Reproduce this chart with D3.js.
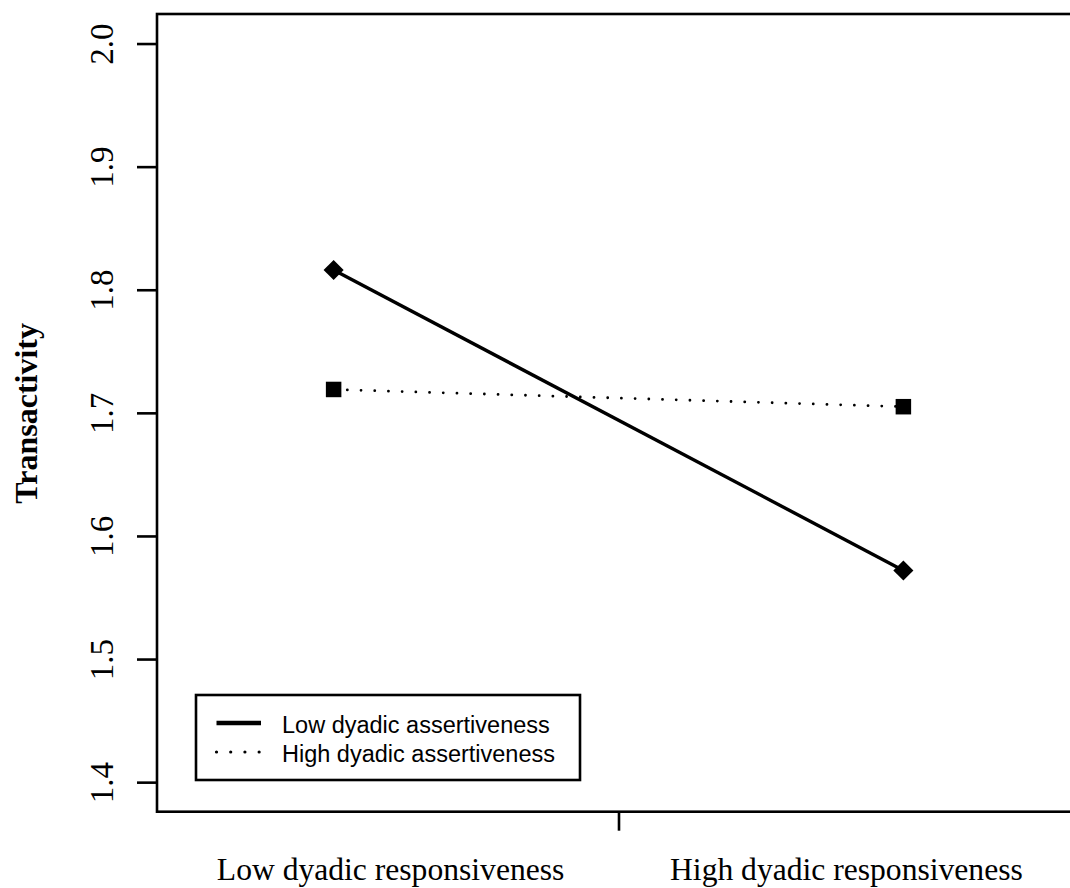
<!DOCTYPE html>
<html>
<head>
<meta charset="utf-8">
<script src="https://cdn.jsdelivr.net/npm/d3@7"></script>
<style>
  html, body { margin: 0; padding: 0; background: #fff; }
  svg { display: block; }
</style>
</head>
<body>
<script>
// ---- data ----
const categories = ["Low dyadic responsiveness", "High dyadic responsiveness"];
const categoryX = [1, 2];
const categoryLabelX = [1.1, 1.9];
const seriesNames = ["Low dyadic assertiveness", "High dyadic assertiveness"];
const lowAssertiveness = [1.816, 1.572];
const highAssertiveness = [1.719, 1.705];
const yTicks = [1.4, 1.5, 1.6, 1.7, 1.8, 1.9, 2.0];
const yTitle = "Transactivity";

const W = 1070, H = 888;
const svg = d3.select("body").append("svg").attr("width", W).attr("height", H);

// scales (R-style 4% padding)
const x = d3.scaleLinear().domain([0.69, 2.31]).range([157, 1080]);
const y = d3.scaleLinear().domain([1.376, 2.024]).range([811.7, 14]);

// box
svg.append("rect")
  .attr("x", x(0.69)).attr("y", y(2.024))
  .attr("width", x(2.31) - x(0.69)).attr("height", y(1.376) - y(2.024))
  .attr("fill", "none").attr("stroke", "#000").attr("stroke-width", 2.6);

// y axis
const yAxis = svg.append("g").attr("transform", `translate(${x(0.69)},0)`)
  .call(d3.axisLeft(y).tickValues(yTicks).tickSize(20).tickFormat(d3.format(".1f")));
yAxis.select(".domain").remove();
yAxis.selectAll(".tick line").attr("stroke", "#000").attr("stroke-width", 2.6);
yAxis.selectAll(".tick text")
  .attr("x", null).attr("dy", null)
  .attr("transform", "translate(-44,0) rotate(-90)")
  .attr("text-anchor", "middle")
  .attr("font-family", "'Liberation Serif', 'Times New Roman', serif")
  .attr("font-size", 33)
  .attr("fill", "#000");

// x axis: single tick between categories
const xAxis = svg.append("g").attr("transform", `translate(0,${y(1.376)})`)
  .call(d3.axisBottom(x).tickValues([1.5]).tickSize(19).tickFormat(""));
xAxis.select(".domain").remove();
xAxis.selectAll(".tick line").attr("stroke", "#000").attr("stroke-width", 2.6);

// category labels
svg.selectAll(".catlab").data(categories).enter().append("text")
  .attr("class", "catlab")
  .attr("x", (d, i) => x(categoryLabelX[i]))
  .attr("y", 880)
  .attr("text-anchor", "middle")
  .attr("font-family", "'Liberation Serif', 'Times New Roman', serif")
  .attr("font-size", 31.6)
  .attr("fill", "#000")
  .text(d => d);

// y title
svg.append("text")
  .attr("transform", `translate(37,${(y(1.4) + y(2.0)) / 2 + 0.5}) rotate(-90)`)
  .attr("text-anchor", "middle")
  .attr("font-family", "'Liberation Serif', 'Times New Roman', serif")
  .attr("font-weight", "bold")
  .attr("font-size", 32)
  .attr("fill", "#000")
  .text(yTitle);

// lines
const line = d3.line().x((d, i) => x(categoryX[i])).y(d => y(d));
svg.append("path").datum(lowAssertiveness).attr("d", line)
  .attr("fill", "none").attr("stroke", "#000").attr("stroke-width", 3.4);
svg.append("path").datum(highAssertiveness).attr("d", line)
  .attr("fill", "none").attr("stroke", "#000").attr("stroke-width", 2.8)
  .attr("stroke-dasharray", "0.01 13.7").attr("stroke-linecap", "round")
  .attr("stroke-dashoffset", -13.7);

// markers
const diamond = d3.symbol().type(d3.symbolSquare).size(14.2 * 14.2);
svg.selectAll(".dia").data(lowAssertiveness).enter().append("path")
  .attr("d", diamond)
  .attr("transform", (d, i) => `translate(${x(categoryX[i])},${y(d)}) rotate(45)`)
  .attr("fill", "#000");
const square = d3.symbol().type(d3.symbolSquare).size(15.5 * 15.5);
svg.selectAll(".sq").data(highAssertiveness).enter().append("path")
  .attr("d", square)
  .attr("transform", (d, i) => `translate(${x(categoryX[i])},${y(d)})`)
  .attr("fill", "#000");

// legend
const lg = svg.append("g");
lg.append("rect").attr("x", 196).attr("y", 695).attr("width", 384).attr("height", 85)
  .attr("fill", "#fff").attr("stroke", "#000").attr("stroke-width", 2.6);
const legendRows = [
  { name: seriesNames[0], dash: null, w: 4.6, yy: 723 },
  { name: seriesNames[1], dash: "0.01 14.2", w: 3.2, yy: 752 }
];
legendRows.forEach(r => {
  const l = lg.append("line").attr("x1", 216.5).attr("x2", 261).attr("y1", r.yy).attr("y2", r.yy)
    .attr("stroke", "#000").attr("stroke-width", r.w);
  if (r.dash) l.attr("stroke-dasharray", r.dash).attr("stroke-linecap", "round");
  lg.append("text").attr("x", 282).attr("y", r.yy + 10)
    .attr("font-family", "'Liberation Sans', Arial, sans-serif")
    .attr("font-size", 23.5).attr("fill", "#000").text(r.name);
});
</script>
</body>
</html>
